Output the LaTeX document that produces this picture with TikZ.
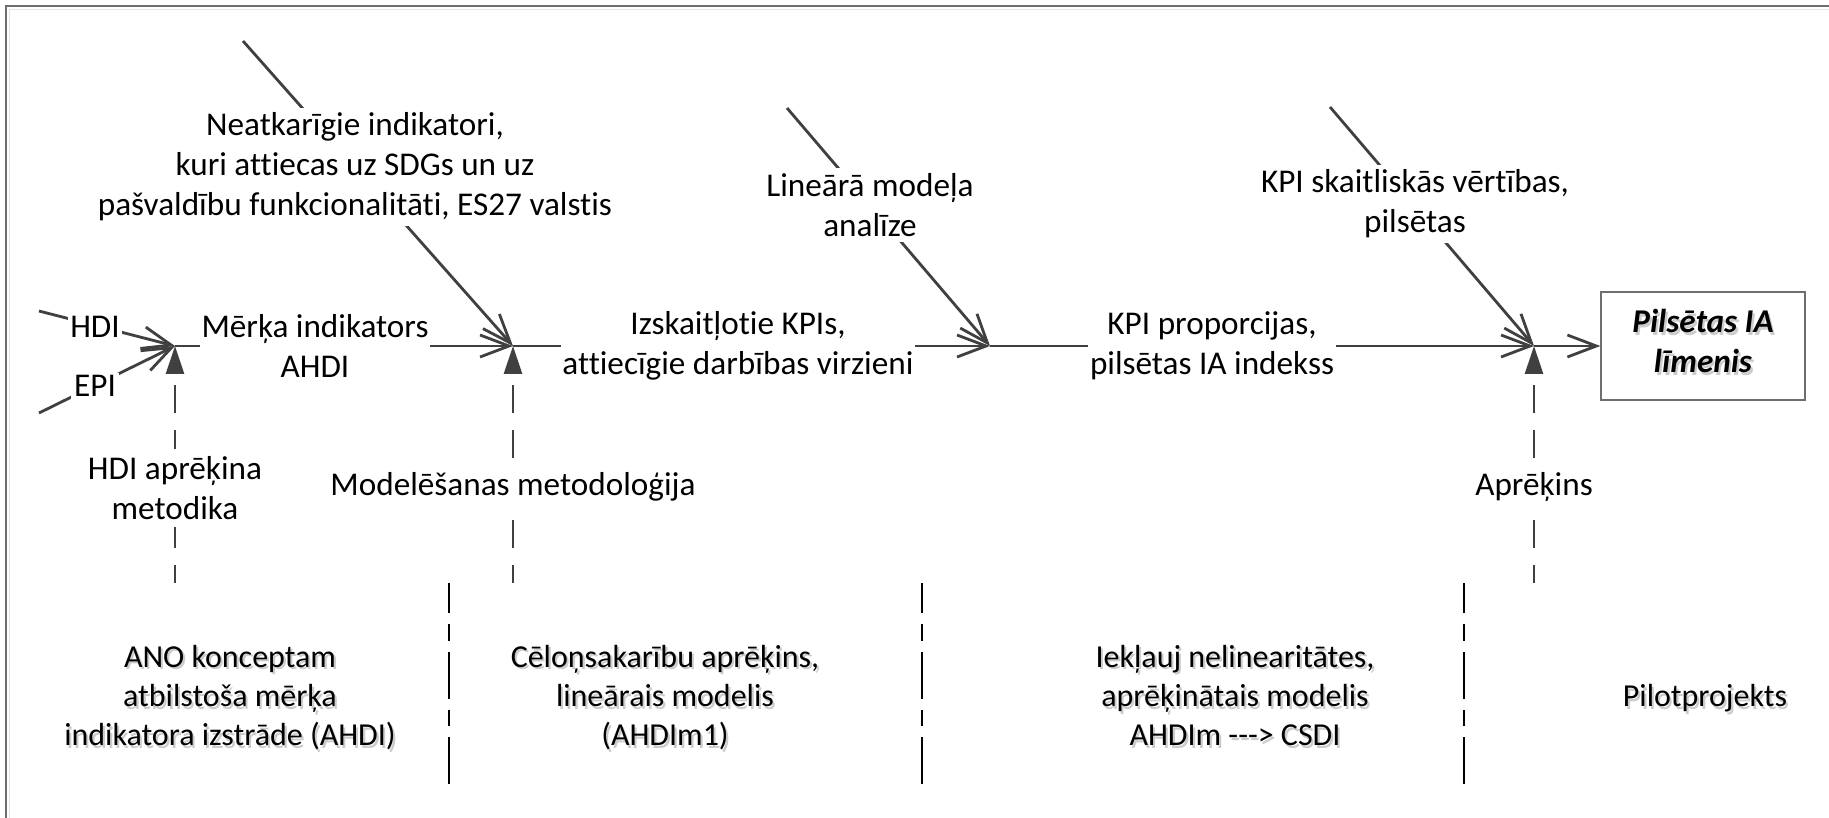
\documentclass[tikz,border=0pt]{standalone}
\usepackage{fontspec}
\setmainfont{Carlito}[Ligatures=CommonOff]
\usetikzlibrary{arrows.meta}
\definecolor{linegray}{HTML}{404040}
\definecolor{framegray}{HTML}{6E6E6E}
\definecolor{shadegray}{HTML}{CCCCCC}
\newcommand{\shadtext}[1]{\makebox[0pt][l]{\hspace{1.2pt}\raisebox{-1.6pt}{\color{shadegray}\begin{tabular}{@{}c@{}}#1\end{tabular}}}\begin{tabular}{@{}c@{}}#1\end{tabular}}

\begin{document}
\begin{tikzpicture}[x=0.02cm, y=-0.02cm,
	every node/.style={font=\fontsize{18.9}{22.7}\selectfont, align=center},
	flow/.style={draw=linegray, line width=1.6pt, -{Straight Barb[length=0.58cm,width=0.44cm]}},
	mech/.style={draw=linegray, line width=1.6pt, dash pattern=on 15.9pt off 9.7pt, dash phase=5.7pt, -{Triangle[length=0.56cm,width=0.36cm]}},
	sepline/.style={draw=black, line width=1pt, dash pattern=on 26.6pt off 6.2pt on 9.6pt off 6.2pt},
	mainlab/.style={fill=white, inner xsep=1pt, inner ysep=2pt},
	smalllab/.style={fill=white, inner sep=1.5pt},
	ctrllab/.style={fill=white, inner xsep=2pt, inner ysep=3pt},
	mechlab/.style={fill=white, inner xsep=2pt, inner ysep=4pt},
	phase/.style={inner sep=0pt, font=\fontsize{18.2}{22.4}\selectfont},
	target/.style={draw=framegray, line width=0.8pt, fill=white, minimum width=4.08cm, minimum height=2.16cm, inner sep=0pt, font=\fontsize{18.9}{22.7}\selectfont\bfseries\itshape}]
	
	\useasboundingbox (0,0) rectangle (1829,818);
	\clip (0,0) rectangle (1829,818);
	\draw[framegray, line width=1pt] (6,6) rectangle (1840,830);
	\draw[black!10, line width=1pt] (9.5,9.5) rectangle (1837,827);
	
	% junctions on the main line
	\coordinate (j1) at (175,346);
	\coordinate (j2) at (513,346);
	\coordinate (j3) at (990,346);
	\coordinate (j4) at (1534,346);
	
	% free ends of the arrows
	\coordinate (hdi0) at (39,311);
	\coordinate (epi0) at (39,413);
	\coordinate (ctl1) at (243,41);
	\coordinate (ctl2) at (787,108);
	\coordinate (ctl3) at (1330,107);
	\coordinate (mech1) at (175,583);
	\coordinate (mech2) at (513,583);
	\coordinate (mech4) at (1534,583);
	
	% inputs
	\draw[flow] (hdi0) -- (j1);
	\draw[flow] (epi0) -- (j1);
	\node[smalllab] (hdi) at (95,327) {HDI};
	\node[smalllab] (epi) at (95,386) {EPI};
	
	% main line
	\node[target] (out) at (1703,346) {\shadtext{Pilsētas IA\\līmenis}};
	\draw[flow] (j1) -- (j2);
	\draw[flow] (j2) -- (j3);
	\draw[flow] (j3) -- (j4);
	\draw[flow] (j4) -- (out);
	\node[mainlab] (m1) at (315,346) {Mērķa indikators\\AHDI};
	\node[mainlab] (m2) at (738,346) {Izskaitļotie KPIs,\\attiecīgie darbības virzieni};
	\node[mainlab] (m3) at (1212,346) {KPI proporcijas,\\pilsētas IA indekss};
	
	% controls
	\draw[flow] (ctl1) -- (j2);
	\draw[flow] (ctl2) -- (j3);
	\draw[flow] (ctl3) -- (j4);
	\node[ctrllab] (c1) at (355,167) {Neatkarīgie indikatori,\\kuri attiecas uz SDGs un uz\\pašvaldību funkcionalitāti, ES27 valstis};
	\node[ctrllab] (c2) at (870,205) {Lineārā modeļa\\analīze};
	\node[ctrllab] (c3) at (1415,204) {KPI skaitliskās vērtības,\\pilsētas};
	
	% mechanisms
	\draw[mech] (mech1) -- (j1);
	\draw[mech] (mech2) -- (j2);
	\draw[mech] (mech4) -- (j4);
	\node[mechlab] (k1) at (175,488) {HDI aprēķina\\metodika};
	\node[mechlab] (k2) at (513,487) {Modelēšanas metodoloģija};
	\node[mechlab] (k4) at (1534,487) {Aprēķins};
	
	% phases
	\coordinate (s1b) at (449,784);
	\coordinate (s1t) at (449,583);
	\coordinate (s2b) at (922,784);
	\coordinate (s2t) at (922,583);
	\coordinate (s3b) at (1464,784);
	\coordinate (s3t) at (1464,583);
	\draw[sepline] (s1b) -- (s1t);
	\draw[sepline] (s2b) -- (s2t);
	\draw[sepline] (s3b) -- (s3t);
	\node[phase] (p1) at (230,700) {\shadtext{ANO konceptam\\atbilstoša mērķa\\indikatora izstrāde (AHDI)}};
	\node[phase] (p2) at (665,700) {\shadtext{Cēloņsakarību aprēķins,\\lineārais modelis\\(AHDIm1)}};
	\node[phase] (p3) at (1235,700) {\shadtext{Iekļauj nelinearitātes,\\aprēķinātais modelis\\AHDIm \mbox{-}\mbox{-}\mbox{-}> CSDI}};
	\node[phase] (p4) at (1705,700) {\shadtext{Pilotprojekts}};
\end{tikzpicture}
\end{document}
